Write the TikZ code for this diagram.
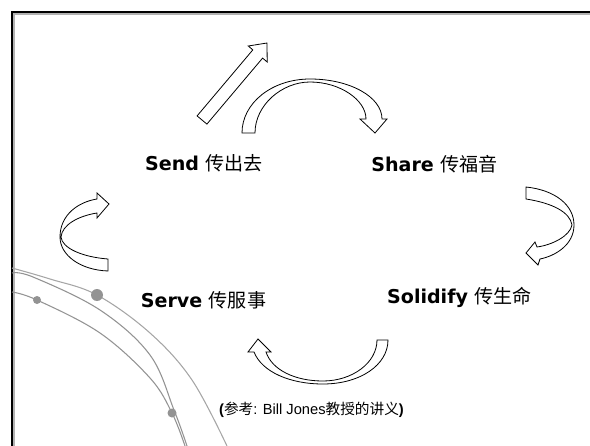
\documentclass[tikz,border=0pt]{standalone}
\usepackage{fontspec}
\setmainfont{DejaVu Sans}
\newfontfamily\cjk{Noto Sans CJK SC}
\newfontfamily\arialf{Liberation Sans}
\newcommand{\cjkreg}[1]{{\cjk\mdseries #1}}
\begin{document}
\begin{tikzpicture}[x=0.75pt,y=-0.75pt,
  blockarrow/.style={draw=black,fill=white,line width=0.6pt,line join=miter},
  swirl/.style={draw=gray!85,line width=0.8pt},
  swirldot/.style={fill=gray!85,draw=none},
  lbl/.style={font=\fontsize{14.3pt}{16pt}\selectfont\bfseries,anchor=base,inner sep=0pt},
  note/.style={font=\fontsize{11pt}{13pt}\selectfont\arialf,anchor=base,inner sep=0pt}]
\useasboundingbox (0,0) rectangle (590,446);
% frame
\draw[gray!60,line width=2.6pt] (13.5,446) -- (13.5,13.5) -- (590,13.5);
\draw[black,line width=2.1pt] (12,446) -- (12,12) -- (590,12);
% decorative swirl lines
\draw[swirl,gray!70] plot[smooth,tension=0.6] coordinates {(12,268) (50,279) (97,295) (150,333) (192,380) (227,446)};
\draw[swirl] plot[smooth,tension=0.6] coordinates {(12,273) (33,277) (100,310) (150,355) (174,410) (187,446)};
\draw[swirl] plot[smooth,tension=0.6] coordinates {(12,292) (37,300) (100,333) (150,378) (172,413) (185,446)};
\fill[swirldot] (97,295) circle[radius=6];
\fill[swirldot] (37,300) circle[radius=4];
\fill[swirldot] (172,413) circle[radius=4.5];
% straight arrow
\draw[blockarrow] (197.1,115.9) -- (252.8,49.9) -- (248.3,46.0) -- (267,43) -- (267.2,62.0) -- (262.6,58.1) -- (206.9,124.1) -- cycle;
% top curved arrow
\draw[blockarrow] (242,133) .. controls (242,103) and (272,79) .. (310,79)
  .. controls (350,79) and (382,97) .. (382,119) -- (387,119) -- (375,133) -- (360,119) -- (366,119)
  .. controls (366,100) and (340,82) .. (310,82) .. controls (282,82) and (255,105) .. (255,133) -- cycle;
% right curved arrow
\draw[blockarrow] (526,187) .. controls (555,190) and (574,205) .. (574,225)
  .. controls (574,245) and (555,256) .. (540,259) -- (538,265) -- (526,253) -- (535,242) -- (537,247)
  .. controls (552,245) and (570,236) .. (572,225) .. controls (570,212) and (552,203) .. (526,199) -- cycle;
% bottom curved arrow
\draw[blockarrow] (388,340) .. controls (388,365) and (360,384) .. (323,384)
  .. controls (290,384) and (262,372) .. (254,352) -- (248,352) -- (258,339) -- (271,352) -- (266,352)
  .. controls (272,370) and (295,381) .. (323,381) .. controls (352,381) and (377,363) .. (377,340) -- cycle;
% left curved arrow
\draw[blockarrow] (108,271) .. controls (80,270) and (60,255) .. (60,237)
  .. controls (60,215) and (78,202) .. (97,199) -- (97,193) -- (109,204) -- (97,218) -- (97,213)
  .. controls (78,216) and (62,225) .. (61,237) .. controls (62,248) and (82,257) .. (108,259) -- cycle;
% labels
\node[lbl] (send) at (204,170) {Send \cjkreg{传出去}};
\node[lbl] (share) at (434.5,171) {Share \cjkreg{传福音}};
\node[lbl] (solid) at (459.5,303) {Solidify \cjkreg{传生命}};
\node[lbl] (serve) at (203.5,307) {Serve \cjkreg{传服事}};
\node[note] (ref) at (311.5,414) {\textbf{(}\cjkreg{参考}: Bill Jones\cjkreg{教授的讲义}\textbf{)}};
\end{tikzpicture}
\end{document}
